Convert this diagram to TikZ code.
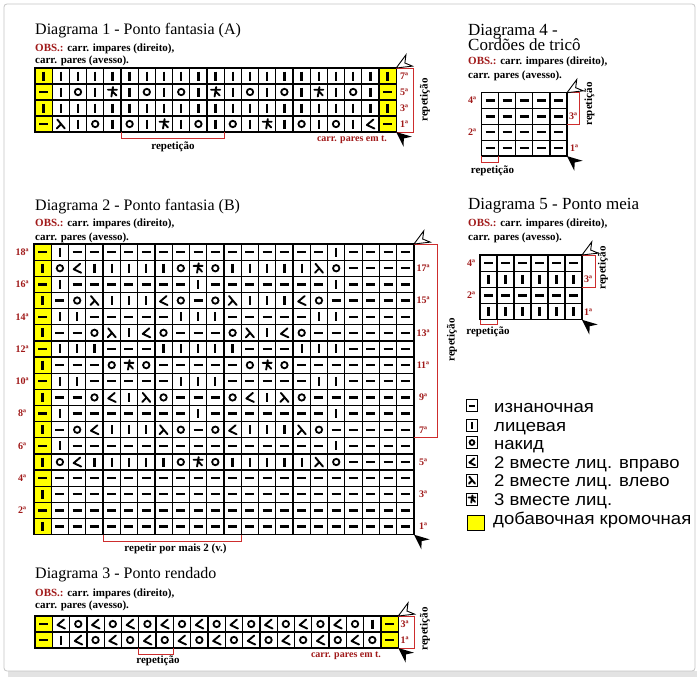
\documentclass[tikz,border=0pt]{standalone}
\usepackage{fontspec}
\setmainfont{Liberation Serif}
\newfontfamily\legfont[FakeStretch=1.09]{Liberation Sans}
\definecolor{labred}{RGB}{160,25,25}
\definecolor{brk}{RGB}{205,45,45}
\definecolor{yel}{RGB}{255,255,0}
\tikzset{
  gl/.style={line width=1.25pt, black, line cap=rect},
  symstroke/.style={line width=2.3pt, line cap=butt},
  thinstroke/.style={line width=1.9pt, line cap=round, line join=round},
  sP/.pic={\draw[symstroke] (-4.5,0)--(4.5,0);},
  sK/.pic={\draw[symstroke] (0,-4.5)--(0,4.5);},
  sO/.pic={\draw[line width=1.8pt] (0,0) circle (3.2);},
  sA/.pic={\draw[thinstroke] (3,-4.5)--(-3.5,1)--(4,4.5);},
  sB/.pic={\draw[thinstroke] (-3.5,-4.5)--(4,4.5) (0.4,0)--(-4,4.5);},
  sT/.pic={\draw[thinstroke] (-4.5,-2.3)--(4.5,-2.3) (0.6,-5)--(-1,4.5) (0,-0.8)--(4,3.5);},
  harrow/.pic={\filldraw[fill=white, draw=black, line width=0.9pt, line join=miter] (0,0) -- (15,-6.5) -- (10,0) -- (15,6.5) -- cycle;},
  barrow/.pic={\fill[black] (0,0) -- (15,-6.5) -- (10,0) -- (15,6.5) -- cycle;},
  titlefont/.style={font=\fontsize{16}{18}\selectfont, inner sep=0pt, anchor=base west},
  titlebig/.style={font=\fontsize{17}{19}\selectfont, inner sep=0pt, anchor=base west},
  obsfont/.style={font=\bfseries\fontsize{11}{13}\selectfont, inner sep=0pt, anchor=base west},
  rowlab/.style={font=\bfseries\fontsize{10}{11}\selectfont, text=labred, inner sep=0pt},
  reptext/.style={font=\bfseries\fontsize{11}{13}\selectfont, inner sep=0pt},
  redtext/.style={font=\bfseries\fontsize{10}{12}\selectfont, text=labred, inner sep=0pt, anchor=base},
  bracket/.style={draw=brk, line width=1pt},
  legtext/.style={font=\legfont\fontsize{17}{19}\selectfont, inner sep=0pt, anchor=base west},
  legbox/.style={draw=black, line width=1pt, minimum width=11.5pt, minimum height=12pt, inner sep=0pt},
}
% x0, y0, ncol, nrow, w, h
\newcommand\cgrid[6]{%
  \foreach \ii in {0,...,#3} {\draw[gl] ({#1+\ii*#5},{#2}) -- ({#1+\ii*#5},{#2+#4*#6});}
  \foreach \jj in {0,...,#4} {\draw[gl] ({#1},{#2+\jj*#6}) -- ({#1+#3*#5},{#2+\jj*#6});}
}
% x0, ycenter, w, list
\newcommand\crow[4]{\foreach \s [count=\i from 0] in {#4} {\pic at ({#1+(\i+0.5)*#3},{#2}) {s\s};}}
\begin{document}
\begin{tikzpicture}[x=1pt,y=-1pt]
\useasboundingbox (0,0) rectangle (700,680);
\fill[white] (0,0) rectangle (700,680);
\fill[gray!22] (8,671) rectangle (697,677);
\draw[gray!45, line width=0.8pt, rounded corners=3pt] (4,4) rectangle (695,671);

% ================= Diagram 1 =================
\node[titlefont] (t1) at (35,34) {Diagrama 1 - Ponto fantasia (A)};
\node[obsfont] (o1) at (35,51) {\textcolor{labred}{OBS.:} carr. impares (direito),};
\node[obsfont] (p1) at (35,63.5) {carr. pares (avesso).};
\fill[yel] (35,68) rectangle (52.2,132);
\fill[yel] (379,68) rectangle (396.2,132);
\crow{35}{76}{17.2}{K,K,K,K,K,K,K,K,K,K,K,K,K,K,K,K,K,K,K,K,K}
\crow{35}{92}{17.2}{P,K,O,K,T,K,O,K,O,K,T,K,O,K,O,K,T,K,O,K,P}
\crow{35}{108}{17.2}{K,K,K,K,K,K,K,K,K,K,K,K,K,K,K,K,K,K,K,K,K}
\crow{35}{124}{17.2}{P,B,K,O,K,O,K,T,K,O,K,O,K,T,K,O,K,O,K,A,P}
\cgrid{35}{68}{21}{4}{17.2}{16}
\node[rowlab] (r17) at (404,76) {7ª};
\node[rowlab] (r15) at (404,92) {5ª};
\node[rowlab] (r13) at (404,108) {3ª};
\node[rowlab] (r11) at (404,124) {1ª};
\draw[bracket] (396.2,68) -- (413,68) -- (413,132) -- (396.2,132);
\node[reptext, rotate=90] (rp1) at (425,100) {repetição};
\draw[bracket] (121,132) -- (121,138) -- (224.2,138) -- (224.2,132);
\node[reptext, anchor=base] (rb1) at (173,149) {repetição};
\node[redtext] (c1) at (352,141) {carr. pares em t.};
\pic[rotate=30] at (396.2,68) {harrow};
\pic[rotate=-40] at (396.2,132) {barrow};

% ================= Diagram 2 =================
\node[titlefont] (t2) at (35,210) {Diagrama 2 - Ponto fantasia (B)};
\node[obsfont] (o2) at (35,226.5) {\textcolor{labred}{OBS.:} carr. impares (direito),};
\node[obsfont] (p2) at (35,240) {carr. pares (avesso).};
\fill[yel] (34,244) rectangle (51.27,534.7);
\def\ya{244}\def\hh{16.15}\def\ww{17.27}
\crow{34}{\ya+0.5*\hh}{\ww}{P,K,P,P,P,P,P,P,P,P,P,P,P,P,P,P,P,K,P,P,P,P}
\crow{34}{\ya+1.5*\hh}{\ww}{K,O,A,K,K,K,K,K,O,T,O,K,K,K,K,K,B,O,P,P,P,P}
\crow{34}{\ya+2.5*\hh}{\ww}{P,K,P,P,P,P,P,P,P,K,P,P,P,P,P,P,P,K,P,P,P,P}
\crow{34}{\ya+3.5*\hh}{\ww}{K,P,O,B,K,K,K,A,O,P,O,B,K,K,K,A,O,P,P,P,P,P}
\crow{34}{\ya+4.5*\hh}{\ww}{P,K,K,P,P,P,P,P,K,K,K,P,P,P,P,P,K,K,P,P,P,P}
\crow{34}{\ya+5.5*\hh}{\ww}{K,P,P,O,B,K,A,O,P,P,P,O,B,K,A,O,P,P,P,P,P,P}
\crow{34}{\ya+6.5*\hh}{\ww}{P,K,K,K,P,P,P,K,K,K,K,K,P,P,P,K,K,K,P,P,P,P}
\crow{34}{\ya+7.5*\hh}{\ww}{K,P,P,P,O,T,O,P,P,P,P,P,O,T,O,P,P,P,P,P,P,P}
\crow{34}{\ya+8.5*\hh}{\ww}{P,K,K,P,P,P,P,P,K,K,K,P,P,P,P,P,K,K,P,P,P,P}
\crow{34}{\ya+9.5*\hh}{\ww}{K,P,P,O,A,K,B,O,P,P,P,O,A,K,B,O,P,P,P,P,P,P}
\crow{34}{\ya+10.5*\hh}{\ww}{P,K,P,P,P,P,P,P,P,K,P,P,P,P,P,P,P,K,P,P,P,P}
\crow{34}{\ya+11.5*\hh}{\ww}{K,P,O,A,K,K,K,B,O,P,O,A,K,K,K,B,O,P,P,P,P,P}
\crow{34}{\ya+12.5*\hh}{\ww}{P,K,P,P,P,P,P,P,P,P,P,P,P,P,P,P,P,K,P,P,P,P}
\crow{34}{\ya+13.5*\hh}{\ww}{K,O,A,K,K,K,K,K,O,T,O,K,K,K,K,K,B,O,P,P,P,P}
\crow{34}{\ya+14.5*\hh}{\ww}{P,P,P,P,P,P,P,P,P,P,P,P,P,P,P,P,P,P,P,P,P,P}
\crow{34}{\ya+15.5*\hh}{\ww}{K,P,P,P,P,P,P,P,P,P,P,P,P,P,P,P,P,P,P,P,P,P}
\crow{34}{\ya+16.5*\hh}{\ww}{P,P,P,P,P,P,P,P,P,P,P,P,P,P,P,P,P,P,P,P,P,P}
\crow{34}{\ya+17.5*\hh}{\ww}{K,P,P,P,P,P,P,P,P,P,P,P,P,P,P,P,P,P,P,P,P,P}
\cgrid{34}{244}{22}{18}{17.27}{16.15}
\foreach \rn [count=\k from 0] in {18,16,...,2}
  {\node[rowlab] (l2-\rn) at (22,{244+(2*\k+0.5)*16.15}) {\rn{}ª};}
\foreach \rn [count=\k from 0] in {17,15,...,1}
  {\node[rowlab] (l2-\rn) at (423,{244+(2*\k+1.5)*16.15}) {\rn{}ª};}
\draw[bracket] (414,244) -- (437,244) -- (437,437.8) -- (414,437.8);
\node[reptext, rotate=90] (rp2) at (452,340) {repetição};
\draw[bracket] (103.1,534.7) -- (103.1,541.5) -- (241.2,541.5) -- (241.2,534.7);
\node[reptext, anchor=base] (rb2) at (175.5,551) {repetir por mais 2 (v.)};
\pic[rotate=30] at (414,244) {harrow};
\pic[rotate=-40] at (414,534.7) {barrow};

% ================= Diagram 3 =================
\node[titlefont] (t3) at (35,578) {Diagrama 3 - Ponto rendado};
\node[obsfont] (o3) at (35,596) {\textcolor{labred}{OBS.:} carr. impares (direito),};
\node[obsfont] (p3) at (35,608.5) {carr. pares (avesso).};
\fill[yel] (35,616) rectangle (52.3,648);
\fill[yel] (381,616) rectangle (398.3,648);
\crow{35}{624}{17.3}{P,A,O,A,O,A,O,A,O,A,O,A,O,A,O,A,O,A,O,K,P}
\crow{35}{640}{17.3}{P,K,A,O,A,O,A,O,A,O,A,O,A,O,A,O,A,O,A,O,P}
\cgrid{35}{616}{21}{2}{17.3}{16}
\node[rowlab] (r33) at (404.5,624) {3ª};
\node[rowlab] (r31) at (404.5,640) {1ª};
\draw[bracket] (398.3,616) -- (414,616) -- (414,648) -- (398.3,648);
\node[reptext, rotate=90] (rp3) at (425,629) {repetição};
\draw[bracket] (138.8,648) -- (138.8,654) -- (173.4,654) -- (173.4,648);
\node[reptext, anchor=base] (rb3) at (158,663.5) {repetição};
\node[redtext] (c3) at (346,657) {carr. pares em t.};
\pic[rotate=30] at (398.3,616) {harrow};
\pic[rotate=-40] at (398.3,648) {barrow};

% ================= Diagram 4 =================
\node[titlebig] (t4) at (468,35) {Diagrama 4 -};
\node[titlebig] (t4b) at (468,50.5) {Cordões de tricô};
\node[obsfont] (o4) at (468,64) {\textcolor{labred}{OBS.:} carr. impares (direito),};
\node[obsfont] (p4) at (468,78) {carr. pares (avesso).};
\foreach \k in {0,...,3} {\crow{481.5}{92.7+(\k+0.5)*15.85}{17.1}{P,P,P,P,P}}
\cgrid{481.5}{92.7}{5}{4}{17.1}{15.85}
\node[rowlab] (l44) at (472,100.6) {4ª};
\node[rowlab] (l42) at (472,132.3) {2ª};
\node[rowlab] (l43) at (573,116.5) {3ª};
\node[rowlab] (l41) at (574,148.2) {1ª};
\draw[bracket] (567,92.7) -- (579.5,92.7) -- (579.5,124.4) -- (567,124.4);
\node[reptext, rotate=90] (rp4) at (589.5,104) {repetição};
\draw[bracket] (481.5,156.1) -- (481.5,162.5) -- (498.6,162.5) -- (498.6,156.1);
\node[reptext, anchor=base] (rb4) at (492.5,173) {repetição};
\pic[rotate=30] at (567,92.7) {harrow};
\pic[rotate=-40] at (567,156.1) {barrow};

% ================= Diagram 5 =================
\node[titlebig] (t5) at (468,209) {Diagrama 5 - Ponto meia};
\node[obsfont] (o5) at (468,226.5) {\textcolor{labred}{OBS.:} carr. impares (direito),};
\node[obsfont] (p5) at (468,240.5) {carr. pares (avesso).};
\crow{480}{263.1}{17}{P,P,P,P,P,P}
\crow{480}{279.3}{17}{K,K,K,K,K,K}
\crow{480}{295.5}{17}{P,P,P,P,P,P}
\crow{480}{311.7}{17}{K,K,K,K,K,K}
\cgrid{480}{255}{6}{4}{17}{16.2}
\node[rowlab] (l54) at (471,263.1) {4ª};
\node[rowlab] (l52) at (471,295.5) {2ª};
\node[rowlab] (l53) at (588,279.3) {3ª};
\node[rowlab] (l51) at (588,311.7) {1ª};
\draw[bracket] (582,255) -- (595,255) -- (595,287.4) -- (582,287.4);
\node[reptext, rotate=90] (rp5) at (603,268) {repetição};
\draw[bracket] (480,319.8) -- (480,324.5) -- (497,324.5) -- (497,319.8);
\node[reptext, anchor=base] (rb5) at (488,334) {repetição};
\pic[rotate=30] at (582,255) {harrow};
\pic[rotate=-40] at (582,319.8) {barrow};

% ================= Legend =================
\node[legbox] (k1) at (472,405.8) {};
\pic[scale=0.75] at (k1) {sP};
\node[legbox] (k2) at (472,425.2) {};
\pic[scale=0.75] at (k2) {sK};
\node[legbox] (k3) at (472,442.5) {};
\pic[scale=0.75] at (k3) {sO};
\node[legbox] (k4) at (472,461.8) {};
\pic[scale=0.75] at (k4) {sA};
\node[legbox] (k5) at (472,480.2) {};
\pic[scale=0.75] at (k5) {sB};
\node[legbox] (k6) at (472,499.2) {};
\pic[scale=0.75] at (k6) {sT};
\node[draw=black, line width=0.8pt, fill=yel, minimum width=17pt, minimum height=15pt, inner sep=0pt] (k7) at (476.3,523.2) {};
\node[legtext] (e1) at (494,412.3) {изнаночная};
\node[legtext] (e2) at (494,431.7) {лицевая};
\node[legtext] (e3) at (494,449) {накид};
\node[legtext] (e4) at (494,468.3) {2 вместе лиц. вправо};
\node[legtext] (e5) at (494,486.7) {2 вместе лиц. влево};
\node[legtext] (e6) at (494,505.7) {3 вместе лиц.};
\node[legtext] (e7) at (493,524.3) {добавочная кромочная};
\end{tikzpicture}
\end{document}
